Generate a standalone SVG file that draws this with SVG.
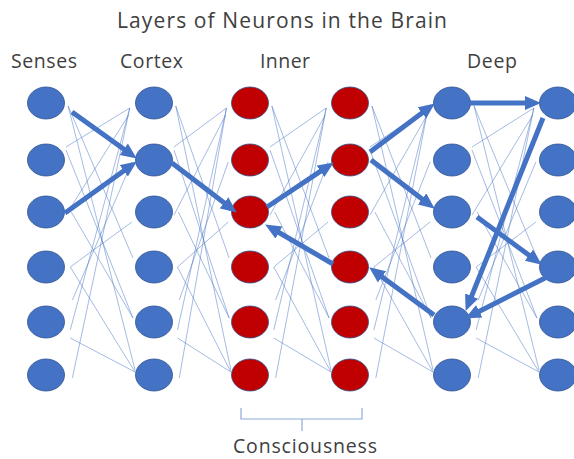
<svg xmlns="http://www.w3.org/2000/svg" xmlns:xlink="http://www.w3.org/1999/xlink" width="574" height="459" viewBox="0 0 574 459">
<style>
.t{font-family:"Open Sans","Liberation Sans",Arial,sans-serif;fill:#404040}
.b{fill:#4472C4;stroke:#2F528F;stroke-width:0.8}
.r{fill:#C00000;stroke:#2F528F;stroke-width:0.8}
.thin{stroke:#4472C4;stroke-width:0.8;opacity:0.6;fill:none;vector-effect:non-scaling-stroke}
.thick{stroke:#4472C4;stroke-width:5;fill:none;marker-end:url(#ah)}
.br{stroke:#8FAADC;stroke-width:1.2;fill:none}
</style>
<defs>
<marker id="ah" markerUnits="userSpaceOnUse" markerWidth="17" markerHeight="15" refX="7" refY="7" orient="auto">
<path d="M0,0 L16,7 L0,14 z" fill="#4472C4"/>
</marker>
<g id="mesh">
<line class="thin" x1="60" y1="108" x2="0" y2="147"/>
<line class="thin" x1="60" y1="108" x2="4" y2="330"/>
<line class="thin" x1="60" y1="108" x2="6" y2="378"/>
<line class="thin" x1="2" y1="106" x2="65" y2="370"/>
<line class="thin" x1="2" y1="106" x2="63" y2="258"/>
<line class="thin" x1="0" y1="150" x2="63" y2="318"/>
<line class="thin" x1="4" y1="267" x2="62" y2="222"/>
<line class="thin" x1="4" y1="267" x2="65" y2="372"/>
<line class="thin" x1="4" y1="338" x2="65" y2="372"/>
<line class="thin" x1="5" y1="212" x2="63" y2="318"/>
<line class="thin" x1="59" y1="115" x2="0" y2="215"/>
<line class="thin" x1="62" y1="162" x2="6" y2="300"/>
</g>
</defs>
<rect width="574" height="459" fill="#ffffff"/>
<text class="t" x="117" y="28" font-size="21" textLength="330">Layers of Neurons in the Brain</text>
<text class="t" x="11" y="68" font-size="19.5" textLength="66">Senses</text>
<text class="t" x="120" y="68" font-size="19.5" textLength="63">Cortex</text>
<text class="t" x="260" y="68" font-size="19.5" textLength="50">Inner</text>
<text class="t" x="467" y="68" font-size="19.5" textLength="50">Deep</text>
<text class="t" x="233" y="453" font-size="19.5" textLength="144">Consciousness</text>
<g id="bracket">
<path class="br" d="M241,408 V419 H362 V408 M302,419 V431"/>
</g>
<g id="nodes">
<g id="s1"><ellipse class="b" cx="46" cy="103" rx="18.5" ry="16"/></g>
<g id="s2"><ellipse class="b" cx="46" cy="160" rx="18.5" ry="16"/></g>
<g id="s3"><ellipse class="b" cx="46" cy="212" rx="18.5" ry="16"/></g>
<g id="s4"><ellipse class="b" cx="46" cy="267" rx="18.5" ry="16"/></g>
<g id="s5"><ellipse class="b" cx="46" cy="322" rx="18.5" ry="16"/></g>
<g id="s6"><ellipse class="b" cx="46" cy="375" rx="18.5" ry="16"/></g>
<g id="c1"><ellipse class="b" cx="154" cy="103" rx="18.5" ry="16"/></g>
<g id="c2"><ellipse class="b" cx="154" cy="160" rx="18.5" ry="16"/></g>
<g id="c3"><ellipse class="b" cx="154" cy="212" rx="18.5" ry="16"/></g>
<g id="c4"><ellipse class="b" cx="154" cy="267" rx="18.5" ry="16"/></g>
<g id="c5"><ellipse class="b" cx="154" cy="322" rx="18.5" ry="16"/></g>
<g id="c6"><ellipse class="b" cx="154" cy="375" rx="18.5" ry="16"/></g>
<g id="i1"><ellipse class="r" cx="250" cy="103" rx="18.5" ry="16"/></g>
<g id="i2"><ellipse class="r" cx="250" cy="160" rx="18.5" ry="16"/></g>
<g id="i3"><ellipse class="r" cx="250" cy="212" rx="18.5" ry="16"/></g>
<g id="i4"><ellipse class="r" cx="250" cy="267" rx="18.5" ry="16"/></g>
<g id="i5"><ellipse class="r" cx="250" cy="322" rx="18.5" ry="16"/></g>
<g id="i6"><ellipse class="r" cx="250" cy="375" rx="18.5" ry="16"/></g>
<g id="j1"><ellipse class="r" cx="350" cy="103" rx="18.5" ry="16"/></g>
<g id="j2"><ellipse class="r" cx="350" cy="160" rx="18.5" ry="16"/></g>
<g id="j3"><ellipse class="r" cx="350" cy="212" rx="18.5" ry="16"/></g>
<g id="j4"><ellipse class="r" cx="350" cy="267" rx="18.5" ry="16"/></g>
<g id="j5"><ellipse class="r" cx="350" cy="322" rx="18.5" ry="16"/></g>
<g id="j6"><ellipse class="r" cx="350" cy="375" rx="18.5" ry="16"/></g>
<g id="d1"><ellipse class="b" cx="452" cy="103" rx="18.5" ry="16"/></g>
<g id="d2"><ellipse class="b" cx="452" cy="160" rx="18.5" ry="16"/></g>
<g id="d3"><ellipse class="b" cx="452" cy="212" rx="18.5" ry="16"/></g>
<g id="d4"><ellipse class="b" cx="452" cy="267" rx="18.5" ry="16"/></g>
<g id="d5"><ellipse class="b" cx="452" cy="322" rx="18.5" ry="16"/></g>
<g id="d6"><ellipse class="b" cx="452" cy="375" rx="18.5" ry="16"/></g>
<g id="e1"><ellipse class="b" cx="558" cy="103" rx="18.5" ry="16"/></g>
<g id="e2"><ellipse class="b" cx="558" cy="160" rx="18.5" ry="16"/></g>
<g id="e3"><ellipse class="b" cx="558" cy="212" rx="18.5" ry="16"/></g>
<g id="e4"><ellipse class="b" cx="558" cy="267" rx="18.5" ry="16"/></g>
<g id="e5"><ellipse class="b" cx="558" cy="322" rx="18.5" ry="16"/></g>
<g id="e6"><ellipse class="b" cx="558" cy="375" rx="18.5" ry="16"/></g>
</g>
<g id="connectors">
<use xlink:href="#mesh" transform="translate(66,0) scale(1.0625,1)"/>
<use xlink:href="#mesh" transform="translate(174,0) scale(0.875,1)"/>
<use xlink:href="#mesh" transform="translate(270,0) scale(0.9375,1)"/>
<use xlink:href="#mesh" transform="translate(370,0) scale(0.969,1)"/>
<use xlink:href="#mesh" transform="translate(472,0) scale(1.031,1)"/>
<line class="thick" x1="72" y1="112" x2="129.5" y2="153.3"/>
<line class="thick" x1="65" y1="213" x2="129.5" y2="166.7"/>
<line class="thick" x1="172" y1="163" x2="229.6" y2="207.1"/>
<line class="thick" x1="267" y1="207" x2="326.3" y2="167.4"/>
<line class="thick" x1="370" y1="152" x2="427.6" y2="108.8"/>
<line class="thick" x1="371" y1="160" x2="427.6" y2="203.2"/>
<line class="thick" x1="470" y1="103" x2="532" y2="103"/>
<line class="thick" x1="543" y1="118" x2="469" y2="302.6"/>
<line class="thick" x1="477" y1="217" x2="534.6" y2="259.3"/>
<line class="thick" x1="547" y1="277" x2="473.1" y2="314.4"/>
<line class="thick" x1="434" y1="315" x2="376.4" y2="272.7"/>
<line class="thick" x1="333" y1="264" x2="272.9" y2="229"/>
</g>
</svg>
